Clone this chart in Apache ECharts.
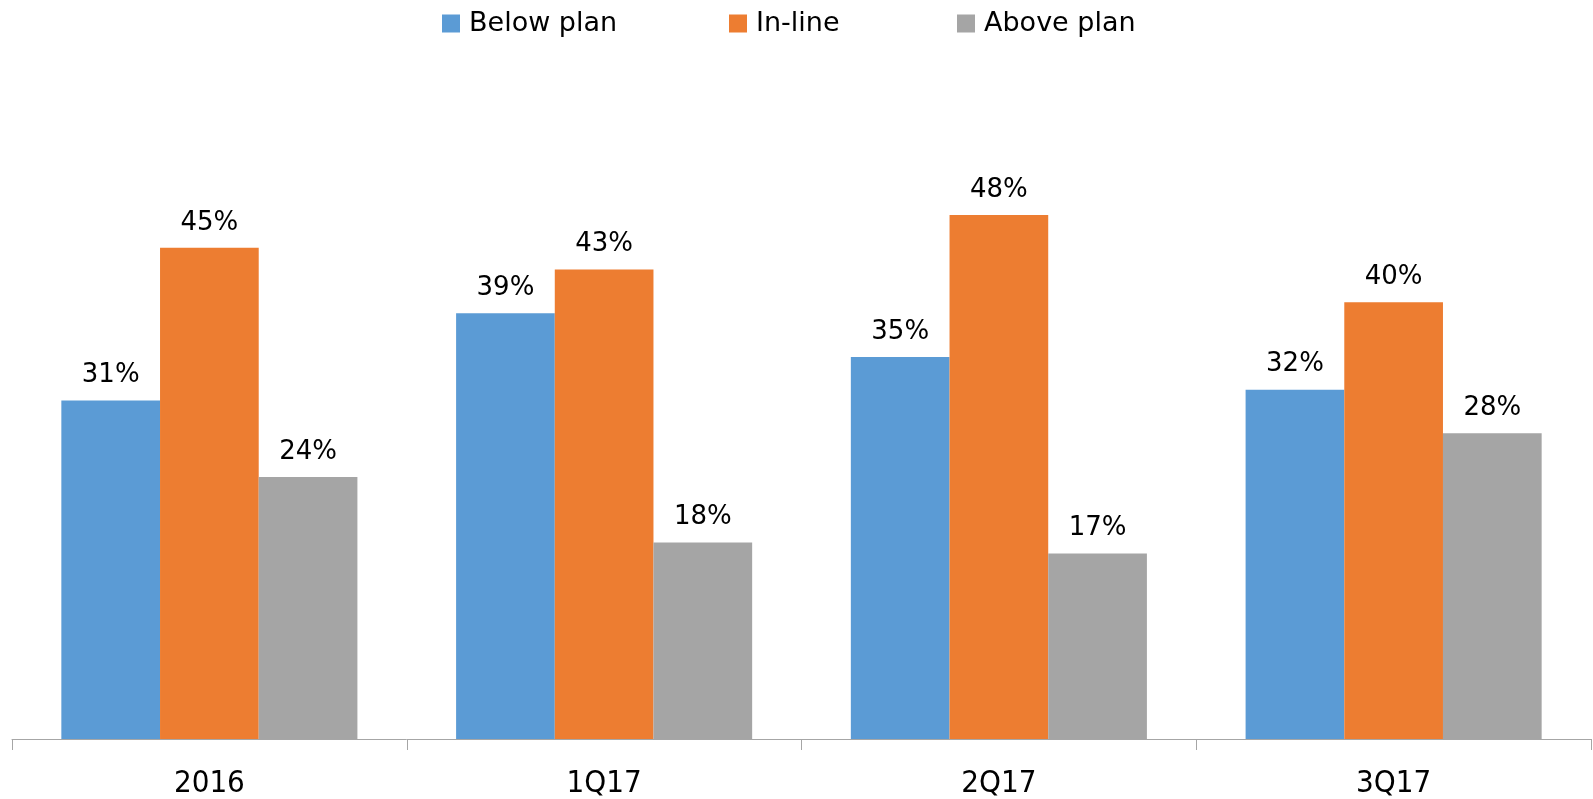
<!DOCTYPE html>
<html>
<head>
<meta charset="utf-8">
<script src="https://cdn.jsdelivr.net/npm/echarts@6/dist/echarts.min.js"></script>
<style>
  html, body { margin: 0; padding: 0; background: #fff; }
  #chart { width: 1593px; height: 799px; }
</style>
</head>
<body>
<div id="chart"></div>
<script>
// Plan-attainment shares per period (percent)
const periods = ['2016', '1Q17', '2Q17', '3Q17'];
const belowPlan = [31, 39, 35, 32];
const inLine = [45, 43, 48, 40];
const abovePlan = [24, 18, 17, 28];

const FONT = '"DejaVu Sans", sans-serif';
const AXIS_FONT = '"DejaVu Sans Condensed", "DejaVu Sans", sans-serif';
const colors = { below: '#5B9BD5', inline: '#ED7D31', above: '#A5A5A5' };

function legendAt(name, left) {
  return {
    data: [name],
    left: left,
    top: 10,
    padding: 0,
    itemWidth: 18,
    itemHeight: 18,
    itemGap: 0,
    icon: 'rect',
    textStyle: { fontFamily: FONT, fontSize: 27, color: '#000', padding: [0, 0, 0, 4] }
  };
}

function barSeries(name, data, color) {
  return {
    name: name,
    type: 'bar',
    data: data,
    barGap: '0%',
    barCategoryGap: '25%',
    itemStyle: { color: color },
    label: {
      show: true,
      position: 'top',
      distance: 12,
      formatter: '{c}%',
      fontFamily: FONT,
      fontSize: 26,
      color: '#000'
    }
  };
}

const chart = echarts.init(document.getElementById('chart'), null, { renderer: 'canvas' });
chart.setOption({
  animation: false,
  backgroundColor: '#fff',
  legend: [
    legendAt('Below plan', 442),
    legendAt('In-line', 729),
    legendAt('Above plan', 957)
  ],
  grid: { left: 12, right: 2, top: 84, bottom: 60, containLabel: false },
  xAxis: {
    type: 'category',
    data: periods,
    axisLine: { lineStyle: { color: '#A6A6A6', width: 1 } },
    axisTick: { show: true, length: 11, lineStyle: { color: '#A6A6A6' } },
    axisLabel: { fontFamily: AXIS_FONT, fontSize: 31, color: '#000', margin: 29 }
  },
  yAxis: {
    type: 'value',
    min: 0,
    max: 60,
    show: false,
    splitLine: { show: false }
  },
  series: [
    barSeries('Below plan', belowPlan, colors.below),
    barSeries('In-line', inLine, colors.inline),
    barSeries('Above plan', abovePlan, colors.above)
  ]
});
</script>
</body>
</html>
